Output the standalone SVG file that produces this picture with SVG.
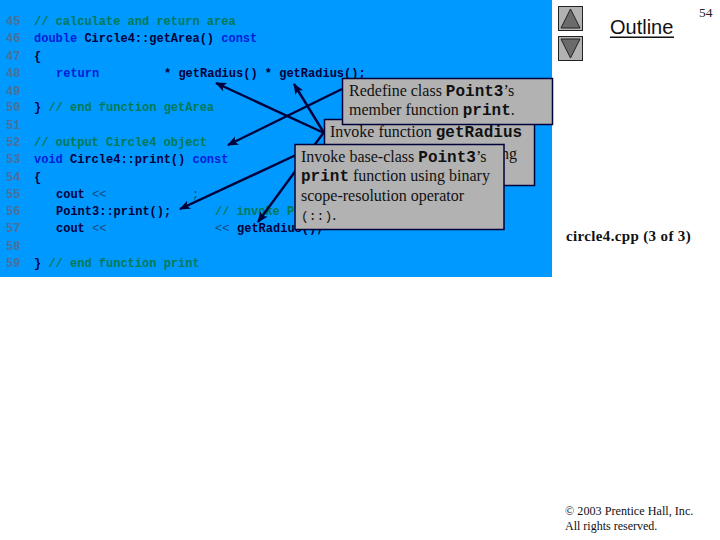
<svg xmlns="http://www.w3.org/2000/svg" width="720" height="540" viewBox="0 0 720 540">
<style>
text{white-space:pre}
.m{font-family:"Liberation Mono",monospace;font-size:12px;font-weight:bold}
.n{fill:#4d6f99}.c{fill:#007a55}.k{fill:#0020d8}.t{fill:#00003a}.o{fill:#1a4a80;font-weight:normal}
.s{font-family:"Liberation Serif",serif;font-size:16px;fill:#111}
.b{font-family:"Liberation Mono",monospace;font-size:16px;font-weight:bold;fill:#111}
.p{font-family:"Liberation Mono",monospace;font-size:13px;fill:#111}
.box{fill:#b2b2b2;stroke:#00003a;stroke-width:1.5}
.a{stroke:#00003a;stroke-width:2.4;fill:none;marker-end:url(#h)}
</style>
<defs><marker id="h" markerUnits="userSpaceOnUse" markerWidth="12" markerHeight="10" refX="10" refY="4.500" orient="auto"><path d="M0 0L11 4.500L0 9L2.500 4.500Z" fill="#00003a"/></marker></defs>
<rect width="552" height="277" fill="#0099ff"/>
<g id="code" class="m">
<text class="n" x="6" y="25">45</text><text class="c" x="34" y="25">// calculate and return area</text>
<text class="n" x="6" y="42">46</text><text x="34" y="42"><tspan class="k">double</tspan><tspan class="t"> Circle4::getArea() </tspan><tspan class="k">const</tspan></text>
<text class="n" x="6" y="60">47</text><text class="t" x="34" y="60">{</text>
<text class="n" x="6" y="77">48</text><text class="k" x="56" y="77">return</text><text class="t" x="164" y="77">* getRadius() * getRadius();</text>
<text class="n" x="6" y="95">49</text>
<text class="n" x="6" y="111">50</text><text x="34" y="111"><tspan class="t">} </tspan><tspan class="c">// end function getArea</tspan></text>
<text class="n" x="6" y="129">51</text>
<text class="n" x="6" y="146">52</text><text class="c" x="34" y="146">// output Circle4 object</text>
<text class="n" x="6" y="163">53</text><text x="34" y="163"><tspan class="k">void</tspan><tspan class="t"> Circle4::print() </tspan><tspan class="k">const</tspan></text>
<text class="n" x="6" y="181">54</text><text class="t" x="34" y="181">{</text>
<text class="n" x="6" y="198">55</text><text class="t" x="56" y="198">cout</text><text class="o" x="92" y="198">&lt;&lt;</text><text class="o" x="192" y="198">;</text>
<text class="n" x="6" y="215">56</text><text class="t" x="56" y="215">Point3::print();</text><text class="c" x="215" y="215">// invoke P</text>
<text class="n" x="6" y="232">57</text><text class="t" x="56" y="232">cout</text><text class="o" x="92" y="232">&lt;&lt;</text><text class="o" x="215" y="232">&lt;&lt;</text><text class="t" x="237" y="232">getRadius();</text>
<text class="n" x="6" y="250">58</text>
<text class="n" x="6" y="267">59</text><text x="34" y="267"><tspan class="t">} </tspan><tspan class="c">// end function print</tspan></text>
</g>
<g id="connectors">
<path class="a" d="M324 133L216 83"/>
<path class="a" d="M324 133L294 84"/>
<path class="a" d="M342 89L228 145"/>
<path class="a" d="M296 155L180 209"/>
<path class="a" d="M324 132L258 222"/>
</g>
<g id="note-invoke-getradius"><rect class="box" x="324.500" y="119.500" width="210" height="66"/>
<text x="330" y="137"><tspan class="s">Invoke function </tspan><tspan class="b">getRadius</tspan></text>
<text class="s" x="501" y="159">ng</text></g>
<g id="note-redefine"><rect class="box" x="342.500" y="78.500" width="210" height="46"/>
<text x="349" y="96"><tspan class="s">Redefine class </tspan><tspan class="b">Point3</tspan><tspan class="s">’s</tspan></text>
<text x="349" y="115"><tspan class="s">member function </tspan><tspan class="b">print</tspan><tspan class="s">.</tspan></text></g>
<g id="note-base-class"><rect class="box" x="295" y="144.500" width="209" height="85"/>
<text x="301" y="162"><tspan class="s">Invoke base-class </tspan><tspan class="b">Point3</tspan><tspan class="s">’s</tspan></text>
<text x="301" y="181"><tspan class="b">print</tspan><tspan class="s"> function using binary</tspan></text>
<text class="s" x="301" y="201">scope-resolution operator</text>
<text class="p" x="301" y="220">(::)<tspan class="s">.</tspan></text></g>
<g id="nav-up"><rect x="558.500" y="6.500" width="24" height="24" fill="#b2b2b2" stroke="#222"/><path d="M561 28L570.500 9L580 28Z" fill="#6b6b6b" stroke="#222"/></g>
<g id="nav-down"><rect x="558.500" y="36.500" width="24" height="24" fill="#b2b2b2" stroke="#222"/><path d="M561 39L570.500 58L580 39Z" fill="#6b6b6b" stroke="#222"/></g>
<g id="outline"><text x="610" y="34" font-family="Liberation Sans,sans-serif" font-size="20" fill="#111">Outline</text><rect x="610" y="36.500" width="64" height="1.500" fill="#111"/></g>
<text x="699" y="17" font-family="Liberation Serif,serif" font-size="13.500" fill="#222">54</text>
<text x="566" y="241" font-family="Liberation Serif,serif" font-size="15" font-weight="bold" letter-spacing="0.350" fill="#111">circle4.cpp (3 of 3)</text>
<text x="565" y="515" font-family="Liberation Serif,serif" font-size="12.200" fill="#111">© 2003 Prentice Hall, Inc.</text>
<text x="565" y="530" font-family="Liberation Serif,serif" font-size="12" fill="#111">All rights reserved.</text>
</svg>
